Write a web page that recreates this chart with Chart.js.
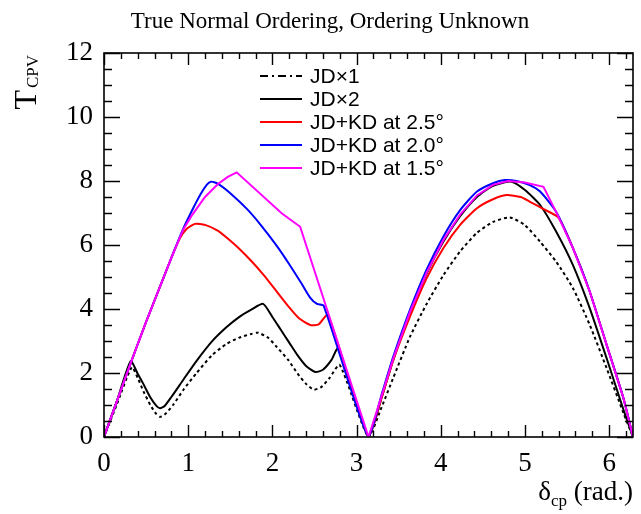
<!DOCTYPE html>
<html><head><meta charset="utf-8">
<script src="https://cdn.jsdelivr.net/npm/chart.js@4"></script>
<style>html,body{margin:0;padding:0;background:#fff;}</style>
</head><body>
<canvas id="c" width="641" height="514"></canvas>
<script>
const titleText = "True Normal Ordering, Ordering Unknown";
const seriesNames = ["JD\u00d71", "JD\u00d72", "JD+KD at 2.5\u00b0", "JD+KD at 2.0\u00b0", "JD+KD at 1.5\u00b0"];
const xTickLabels = [0, 1, 2, 3, 4, 5, 6];
const yTickLabels = [0, 2, 4, 6, 8, 10, 12];

const jd1 = [[0,0],[0.15,1.0],[0.33,2.18],[0.4,1.85],[0.47,1.42],[0.55,1.0],[0.62,0.72],[0.665,0.63],[0.72,0.7],[0.82,1.0],[0.95,1.5],[1.1,2.0],[1.28,2.55],[1.45,2.9],[1.6,3.1],[1.75,3.22],[1.83,3.26],[1.95,3.1],[2.05,2.82],[2.19,2.4],[2.3,1.98],[2.4,1.66],[2.49,1.48],[2.58,1.56],[2.68,1.85],[2.8,2.25],[3.1416,0],
  [3.3,0.95],[3.436,1.85],[3.634,3.13],[3.83,4.15],[4.03,5.05],[4.23,5.8],[4.43,6.38],[4.62,6.72],[4.82,6.86],[5.0,6.62],[5.18,6.1],[5.37,5.48],[5.57,4.65],[5.77,3.5],[5.97,2.15],[6.17,0.75],[6.2832,0]];
const jd2 = [[0,0],[0.15,1.1],[0.317,2.37],[0.4,1.98],[0.467,1.66],[0.546,1.26],[0.62,0.98],[0.665,0.9],[0.72,0.97],[0.8,1.25],[0.95,1.82],[1.1,2.38],[1.28,2.98],[1.45,3.42],[1.6,3.74],[1.75,3.98],[1.89,4.16],[2.0,3.75],[2.1,3.35],[2.2,2.95],[2.3,2.55],[2.4,2.22],[2.51,2.03],[2.6,2.1],[2.7,2.4],[2.78,2.77],[3.1416,0],
  [3.3,1.25],[3.436,2.42],[3.634,3.88],[3.83,5.1],[4.03,6.1],[4.23,6.9],[4.43,7.5],[4.62,7.85],[4.84,7.98],[5.0,7.72],[5.18,7.25],[5.37,6.42],[5.57,5.37],[5.77,4.02],[5.97,2.46],[6.17,0.85],[6.2832,0]];
const kd25 = [[0,0],[0.15,1.1],[0.33,2.4],[0.5,3.6],[0.65,4.6],[0.8,5.6],[0.9,6.2],[0.98,6.5],[1.08,6.66],[1.2,6.63],[1.35,6.45],[1.48,6.18],[1.6,5.9],[1.75,5.5],[1.9,5.05],[2.05,4.55],[2.2,4.05],[2.32,3.7],[2.45,3.5],[2.55,3.52],[2.66,3.82],[3.1416,0],
  [3.3,1.25],[3.436,2.4],[3.634,3.76],[3.83,4.95],[4.03,5.9],[4.23,6.63],[4.43,7.15],[4.62,7.43],[4.78,7.56],[4.95,7.5],[5.06,7.35],[5.2,7.15],[5.4,6.85],[5.57,5.9],[5.77,4.54],[5.97,2.88],[6.17,1.21],[6.2832,0]];
const kd20 = [[0,0],[0.15,1.1],[0.33,2.4],[0.5,3.6],[0.65,4.6],[0.8,5.6],[0.94,6.5],[1.05,7.1],[1.15,7.6],[1.22,7.88],[1.27,7.98],[1.35,7.92],[1.5,7.62],[1.7,7.12],[1.87,6.6],[2.05,5.98],[2.2,5.4],[2.35,4.78],[2.45,4.35],[2.53,4.16],[2.61,4.1],[3.1416,0],
  [3.3,1.35],[3.436,2.51],[3.634,3.97],[3.83,5.22],[4.03,6.26],[4.23,7.09],[4.43,7.67],[4.62,7.93],[4.76,8.03],[4.9,8.0],[5.05,7.88],[5.18,7.67],[5.37,7.04],[5.57,5.9],[5.77,4.54],[5.97,2.88],[6.17,1.21],[6.2832,0]];
const kd15 = [[0,0],[0.15,1.1],[0.33,2.4],[0.5,3.6],[0.65,4.6],[0.8,5.6],[0.94,6.48],[1.05,6.95],[1.2,7.5],[1.35,7.9],[1.47,8.13],[1.576,8.27],[2.11,6.99],[2.33,6.57],[3.1416,0],
  [3.3,1.3],[3.436,2.45],[3.634,3.9],[3.83,5.12],[4.03,6.15],[4.23,6.95],[4.43,7.55],[4.62,7.88],[4.8,8.0],[5.0,7.95],[5.22,7.82],[5.38,6.98],[5.57,5.9],[5.77,4.54],[5.97,2.88],[6.17,1.21],[6.2832,0]];

const seriesData = [jd1, jd2, kd25, kd20, kd15];
const seriesColors = ["#000000", "#000000", "#ff0000", "#0000ff", "#ff00ff"];
const plotDash = [[3, 3], [], [], [], []];
const legendDash = [[8, 4, 2, 4], [], [], [], []];
const drawOrder = [4, 3, 2, 1, 0];
const tensions = [0.2, 0.2, 0.2, 0.2, 0];

const SERIF = "'Liberation Serif', 'Times New Roman', serif";
const SANS = "'Liberation Sans', Arial, sans-serif";

const framePlugin = {
  id: 'frame',
  afterDatasetsDraw(chart) {
    const ctx = chart.ctx, a = chart.chartArea;
    const xs = chart.scales.x, ys = chart.scales.y;
    ctx.save();
    ctx.strokeStyle = '#000';
    ctx.lineWidth = 1.6;
    ctx.strokeRect(a.left, a.top, a.right - a.left, a.bottom - a.top);
    ctx.lineWidth = 1.4;
    ctx.beginPath();
    for (let i = 0; i <= 31; i++) {
      const v = i * 0.2;
      if (v > xs.max) break;
      const major = i % 5 === 0;
      const L = major ? 12 : 6;
      const px = Math.round(xs.getPixelForValue(v)) + 0.5;
      ctx.moveTo(px, a.bottom); ctx.lineTo(px, a.bottom - L);
      ctx.moveTo(px, a.top); ctx.lineTo(px, a.top + L);
    }
    for (let i = 0; i <= 24; i++) {
      const v = i * 0.5;
      const major = i % 4 === 0;
      const L = major ? 16 : 8;
      const py = Math.round(ys.getPixelForValue(v)) + 0.5;
      ctx.moveTo(a.left, py); ctx.lineTo(a.left + L, py);
      ctx.moveTo(a.right, py); ctx.lineTo(a.right - L, py);
    }
    ctx.stroke();
    ctx.restore();
  },
  afterDraw(chart) {
    const ctx = chart.ctx;
    ctx.save();
    ctx.fillStyle = '#000';
    // title
    ctx.font = "23px " + SERIF;
    ctx.textAlign = 'center';
    ctx.textBaseline = 'alphabetic';
    ctx.fillText(titleText, 330, 28);
    // x axis title
    ctx.textAlign = 'left';
    const big = "27px " + SERIF, small = "17px " + SERIF;
    ctx.font = big; const wD = ctx.measureText("\u03b4").width;
    ctx.font = small; const wS = ctx.measureText("cp").width;
    ctx.font = big; const wR = ctx.measureText(" (rad.)").width;
    let x0 = 633 - (wD + wS + wR);
    ctx.font = big; ctx.fillText("\u03b4", x0, 500);
    ctx.font = small; ctx.fillText("cp", x0 + wD, 506);
    ctx.font = big; ctx.fillText(" (rad.)", x0 + wD + wS, 500);
    // y axis title (rotated)
    ctx.save();
    ctx.translate(36, 55);
    ctx.rotate(-Math.PI / 2);
    const fT = "32px " + SERIF, fC = "17px " + SERIF;
    ctx.font = fT; const wT = ctx.measureText("T").width;
    ctx.font = fC; const wC = ctx.measureText("CPV").width;
    ctx.textAlign = 'left';
    ctx.font = fT; ctx.fillText("T", -(wT + wC + 2), 0);
    ctx.font = fC; ctx.fillText("CPV", -wC, 2);
    ctx.restore();
    // legend
    const rows = [76, 99, 122, 145, 168];
    ctx.font = "21px " + SANS;
    ctx.textBaseline = 'middle';
    for (let i = 0; i < seriesNames.length; i++) {
      const y = rows[i];
      ctx.strokeStyle = seriesColors[i];
      ctx.lineWidth = 2;
      ctx.setLineDash(legendDash[i]);
      ctx.beginPath(); ctx.moveTo(260, y); ctx.lineTo(302, y); ctx.stroke();
      ctx.setLineDash([]);
      ctx.fillStyle = '#000';
      ctx.fillText(seriesNames[i], 310, y + 1);
    }
    ctx.restore();
  }
};

new Chart(document.getElementById('c'), {
  type: 'line',
  data: {
    datasets: seriesData.map((d, i) => ({
      label: seriesNames[i],
      data: d.map(p => ({ x: p[0], y: p[1] })),
      borderColor: seriesColors[i],
      borderWidth: 2,
      borderDash: plotDash[i],
      pointRadius: 0,
      fill: false,
      tension: tensions[i],
      order: drawOrder[i]
    }))
  },
  options: {
    responsive: false,
    devicePixelRatio: 1,
    animation: false,
    layout: { padding: { top: 53, right: 8, left: 0, bottom: 0 } },
    plugins: { legend: { display: false }, title: { display: false }, tooltip: { enabled: false } },
    scales: {
      x: {
        type: 'linear', min: 0, max: 6.2832,
        grid: { display: false }, border: { display: false },
        afterFit: s => { s.height = 77; },
        afterBuildTicks: s => { s.ticks = xTickLabels.map(v => ({ value: v })); },
        ticks: { autoSkip: false, maxRotation: 0, color: '#000', padding: 3, font: { family: SERIF, size: 27 } }
      },
      y: {
        type: 'linear', min: 0, max: 12,
        grid: { display: false }, border: { display: false },
        afterFit: s => { s.width = 104; },
        afterBuildTicks: s => { s.ticks = yTickLabels.map(v => ({ value: v })); },
        ticks: { autoSkip: false, color: '#000', padding: 3, font: { family: SERIF, size: 27 } }
      }
    }
  },
  plugins: [framePlugin]
});
</script>
</body></html>
